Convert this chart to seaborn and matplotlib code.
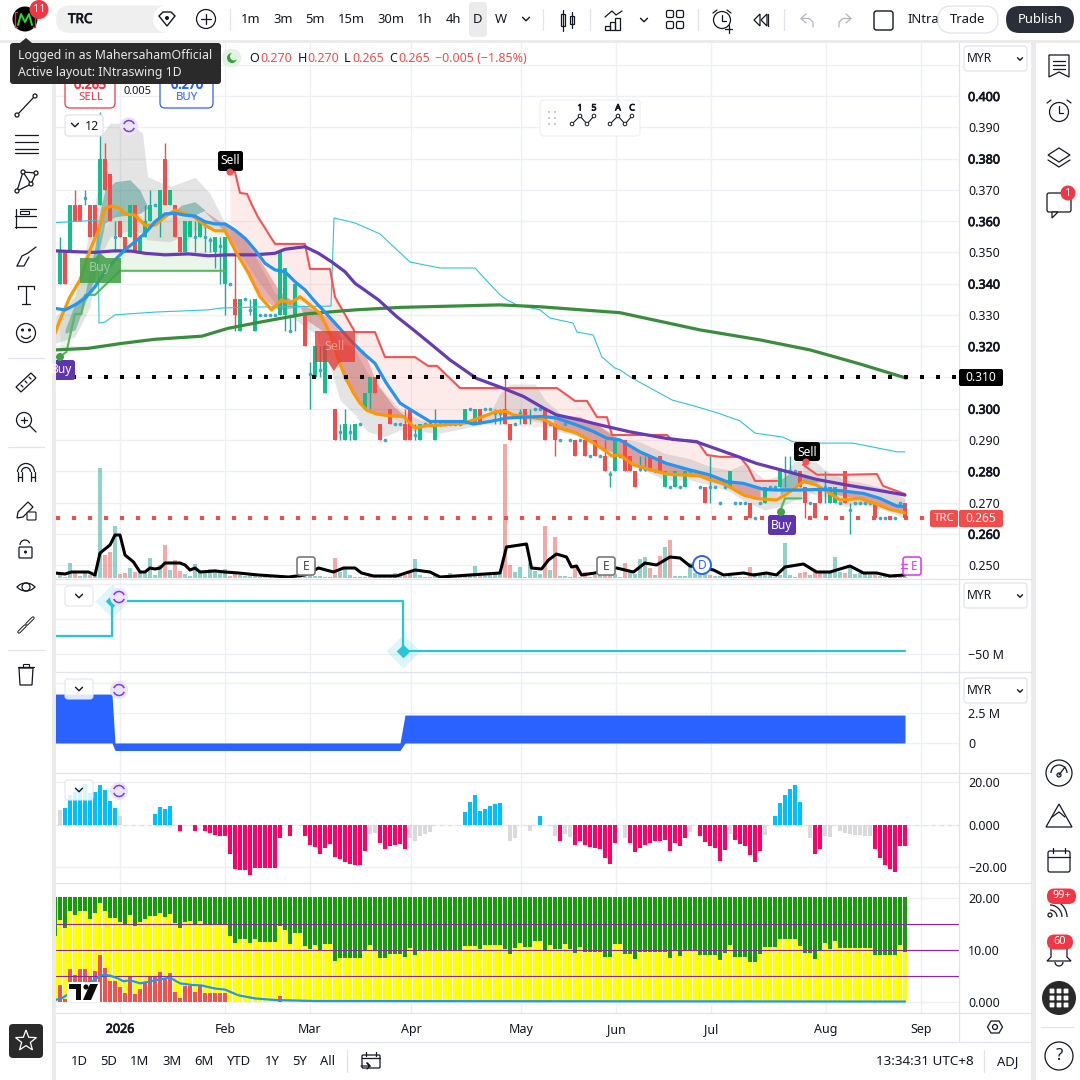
import numpy as np
import matplotlib
matplotlib.use("Agg")
import matplotlib.pyplot as plt
import matplotlib.patheffects as pe
import seaborn as sns
from matplotlib.patches import FancyBboxPatch, Circle, Arc, Polygon, Rectangle

nan = float('nan')

# ------------------------------------------------------------------ candles
opens = [.34,.35,.35,.365,.365,.3675,.365,.365,.365,.38,
 .375,.355,.36,.355,.355,.365,.35,.355,.36,.365,
 .36,.38,.365,.365,.355,.35,.355,.355,.355,.355,
 .354,.35,.352,.34,.34,.335,.325,.335,.3315,.325,
 .33,.33,.33,.33,.33,.33,.325,.33,nan,.33,
 .311,.31,.3125,.305,nan,.30,.2925,.29,.2925,.29,
 .295,.30,.305,.31,.295,.29,.30,.295,.295,.295,
 .30,.2915,.29,.295,.295,.29,.295,.295,.295,.295,
 .295,.295,.30,.295,.30,.30,.30,.2985,.2985,.30,
 .295,.295,.2985,.30,.2975,.30,.30,.30,.295,.295,
 .29,.295,.29,.29,.29,.29,.285,.29,.285,.285,
 .279,.28,.285,.29,.285,.28,.2807,.2807,.285,.28,
 .285,.275,.275,.275,.275,.275,.28,.28,.275,.275,
 .275,.275,.27,.275,.275,.27,.27,.27,.27,.265,
 .27,.27,.275,.275,.275,.28,.28,.28,.28,.275,
 .27,.27,.275,.275,.27,.27,.27,.28,.2675,.27,
 .27,.27,.27,.27,.265,.265,.265,.265,.27,.27]
highs = [.355,.35,.365,.37,.365,.37,.365,.365,.395,.385,
 .375,.36,.36,.355,.365,.365,.355,.365,.37,.365,
 .37,.385,.37,.365,.355,.36,.36,.36,.36,.36,
 .355,.355,.355,.355,.34,.35,.335,.335,.335,.335,
 .33,.33,.33,.33,.35,.345,.33,.34,nan,.33,
 .315,.32,.32,.32,nan,.30,.295,.30,.295,.295,
 .295,.305,.31,.31,.295,.29,.30,.295,.295,.30,
 .30,.295,.295,.295,.295,.30,.295,.295,.295,.295,
 .295,.30,.30,.30,.30,.30,.30,.30,.30,.31,
 .295,.295,.30,.30,.30,.30,.30,.30,.295,.295,
 .29,.295,.29,.29,.29,.29,.285,.29,.285,.29,
 .28,.29,.285,.29,.285,.28,.285,.285,.285,.28,
 .285,.28,.275,.28,.275,.28,.28,.28,.275,.275,
 .285,.275,.27,.275,.28,.27,.27,.27,.27,.265,
 .27,.275,.275,.275,.28,.285,.285,.28,.28,.275,
 .27,.27,.275,.28,.275,.275,.27,.28,.27,.27,
 .27,.27,.27,.27,.265,.265,.265,.265,.27,.27]
lows = [.34,.34,.35,.36,.36,.365,.355,.355,.365,.37,
 .36,.35,.355,.35,.355,.35,.35,.355,.36,.365,
 .355,.365,.365,.355,.35,.35,.355,.35,.355,.35,
 .35,.345,.34,.33,.34,.325,.325,.335,.33,.325,
 .33,.33,.33,.33,.33,.325,.325,.325,nan,.32,
 .30,.31,.31,.305,nan,.29,.29,.29,.29,.29,
 .295,.30,.30,.305,.29,.29,.295,.295,.295,.29,
 .29,.29,.29,.295,.295,.29,.295,.295,.295,.295,
 .295,.295,.30,.295,.295,.30,.30,.295,.295,.295,
 .29,.295,.295,.295,.295,.30,.30,.29,.295,.285,
 .29,.295,.29,.285,.29,.285,.285,.285,.285,.28,
 .275,.28,.285,.28,.28,.275,.28,.28,.28,.28,
 .28,.275,.275,.275,.275,.275,.28,.28,.275,.27,
 .27,.275,.27,.275,.275,.27,.27,.27,.265,.265,
 .27,.27,.275,.275,.275,.275,.28,.28,.275,.265,
 .27,.265,.27,.27,.27,.27,.27,.27,.26,.27,
 .27,.27,.27,.265,.265,.265,.265,.265,.27,.265]
closes = [.35,.34,.365,.36,.36,.3675,.355,.355,.38,.37,
 .36,.355,.355,.35,.365,.35,.355,.36,.365,.365,
 .37,.365,.37,.355,.35,.36,.36,.355,.36,.355,
 .354,.355,.352,.355,.34,.33,.335,.335,.3315,.335,
 .33,.33,.33,.33,.35,.345,.325,.34,nan,.32,
 .311,.32,.3125,.32,nan,.29,.2925,.295,.2925,.295,
 .295,.305,.31,.305,.29,.29,.295,.295,.295,.29,
 .29,.2915,.295,.295,.295,.295,.295,.295,.295,.295,
 .295,.30,.30,.30,.295,.30,.30,.2985,.2985,.295,
 .29,.295,.2985,.295,.2975,.30,.30,.29,.295,.29,
 .29,.295,.29,.285,.29,.285,.285,.285,.285,.28,
 .279,.29,.285,.28,.28,.275,.2807,.2807,.28,.28,
 .28,.28,.275,.28,.275,.28,.28,.28,.275,.27,
 .275,.275,.27,.275,.28,.27,.27,.27,.265,.265,
 .27,.275,.275,.275,.28,.28,.28,.28,.275,.27,
 .27,.265,.27,.275,.275,.275,.27,.27,.2675,.27,
 .27,.27,.27,.265,.265,.265,.265,.265,.27,.265]

# ------------------------------------------------------------------ overlays on price
orange_i = [-1,0,2,4,6,7.7,9,10.3,12,13,15,17,19,21,23,25,26.3,29,31,33,35,37.7,40,42.3,44.3,46,48,50,52,54,55.7,57,58.7,60,61.3,63.3,66,68.7,71,73,76.7,80.7,82.7,87.3,89.3,90.7,94,96.7,100,103.3,106.7,109.3,110.3,112,114.7,121.3,128,130,132.7,136.7,139.3,141.3,143.3,145,148.7,151.3,154,156,160,163.3,166,169]
orange_v = [.3241,.3284,.3358,.3412,.3507,.3571,.3641,.3648,.3641,.3623,.3619,.3587,.3587,.3614,.3635,.3623,.3619,.3587,.3569,.3569,.3507,.3433,.3358,.3316,.3348,.3337,.3358,.3332,.3305,.3241,.3156,.3103,.305,.3018,.2996,.2983,.2977,.2975,.2938,.2945,.2948,.2954,.2964,.2991,.2991,.298,.2973,.2966,.2938,.2922,.289,.2863,.2849,.2852,.282,.2791,.2785,.2772,.2761,.2724,.2713,.271,.2708,.2724,.2767,.2756,.2729,.2708,.2713,.2695,.2678,.2667]
blue_i = [-1,1,3,5,7,9,11,13,15,17,19,21,23,25,27,29,31,33,35,37,39,41,43,45,47,49,50.7,54.7,58,60.7,63,65.3,68,70.7,74,77.3,80.7,82.7,86,89.3,92.7,96.7,99.3,103.3,106.7,109.3,112,116,121.3,126,130,133.3,136.7,140.7,143.3,148,152,156,160.7,164,167.3,169]
blue_v = [.3321,.3316,.3332,.3353,.339,.3438,.3476,.3508,.3534,.3561,.3598,.3623,.3625,.3619,.3616,.3598,.3591,.3591,.3571,.3545,.3508,.3465,.3444,.3438,.3406,.338,.3348,.3279,.322,.3177,.3145,.3081,.3018,.2991,.2959,.2959,.2959,.2951,.2959,.297,.2973,.2975,.297,.2948,.2927,.2906,.29,.2862,.2825,.2804,.2788,.2767,.2761,.2742,.274,.274,.2742,.2738,.2729,.2713,.2689,.2687]
purple_i = [-1,3,7,11,14.3,17,21,25.7,29.7,33.7,39,43,45,49,51.7,54.3,57,59,63.7,67.3,70.7,74,78,83.3,88.7,92.7,96.7,99.3,104,108,114,121.3,127.3,134.7,139.3,144.7,151.3,157.3,163.3,169]
purple_v = [.3505,.3502,.35,.3505,.3504,.3497,.3492,.3495,.3489,.3492,.3492,.3497,.351,.3518,.3497,.347,.3438,.3401,.3348,.3295,.3252,.3209,.3156,.3097,.3065,.3039,.3002,.298,.2964,.2948,.2926,.2905,.2894,.2852,.2825,.2802,.2774,.2756,.274,.2724]
green_i = [-1,5.6,12.4,19,28.4,33.6,40.4,49,59,68,88,96,112,128,140,150,160,169.2]
green_v = [.3188,.3193,.3209,.3222,.3232,.3257,.3278,.3303,.3316,.3324,.3332,.3326,.3307,.3252,.322,.3188,.3143,.3098]
cyan_i = [-1,7.6,7.8,9,11,13.6,19,29.6,32.4,39,54.2,54.8,59,64,70,76,83,88,89.4,91.4,96,98,102.6,103.4,106.6,108.4,111,112,114.4,122.4,127.4,131.4,136,139,144.6,146.6,152,158.6,167.4,169]
cyan_v = [.3595,.3603,.3274,.3277,.33,.3303,.3309,.3316,.3322,.3325,.3328,.361,.3594,.3559,.3469,.345,.345,.3364,.3348,.3332,.3316,.329,.3274,.3245,.3236,.3165,.313,.3124,.3098,.3028,.3006,.2987,.2961,.2922,.2909,.2894,.289,.289,.2862,.2862]
stop_i = [34,35,36,37.4,38.4,39.6,43,49,50,54,55,57.6,59,63,65,71,73.6,75.4,80,99.4,103,105.4,107.4,109.4,110.4,121.4,122.4,127.4,129.4,132,136,137.6,139,143.4]
stop_v = [.3757,.3757,.369,.3687,.3651,.3613,.3527,.3527,.3447,.3447,.3357,.3284,.3245,.3245,.3165,.3165,.3137,.3137,.3066,.3066,.3025,.3025,.2973,.2973,.2916,.2916,.29,.2897,.2852,.2846,.2846,.2814,.2769,.2769]
stop_floor = [.354,.3507,.349,.3445,.3415,.3375,.332,.3345,.3332,.3241,.318,.308,.3035,.2985,.298,.2938,.2945,.2947,.2953,.294,.2925,.2905,.2885,.2863,.2849,.279,.279,.2785,.2775,.2765,.273,.272,.2713,.2708]
stop2_i = [148.6,151.4,157.4,163.4,164.6,169]
stop2_v = [.2821,.2789,.2789,.2791,.2753,.2727]
stop2_floor = [.2767,.2756,.27,.2695,.2687,.2667]
gstop_i = [0,1.3,3,4.3,5,7,12,18,25,33]
gstop_v = [.3166,.3182,.3303,.3303,.3364,.3364,.3441,.3441,.3441,.3441]
gstop_top = [.33,.331,.337,.342,.346,.354,.364,.36,.362,.359]
gstop2_i = [144,145,148.3]
gstop2_v = [.2671,.2713,.2713]
gstop2_top = [.272,.273,.276]
grey_i = [-1,3,6,7.5,8,10,14,16.5,17.5,22,27,30,33,36,39,43,48,51,54,56,59,61.5,65,68,72,76,81,86,88,90,95,97,100,104,108,112,116,121,126,130,134,137,141,144,147,150,153,157,160,165,169]
grey_up = [.3294,.3358,.3571,.3699,.387,.3913,.3913,.3881,.3742,.371,.374,.3689,.3593,.3561,.3487,.3369,.3337,.332,.3241,.3209,.3188,.3113,.305,.2996,.2964,.2955,.296,.2985,.3049,.3079,.3079,.3028,.2985,.297,.2943,.2905,.2894,.2857,.284,.2815,.2804,.2825,.2772,.2788,.283,.2846,.2804,.2772,.2765,.2745,.2713]
grey_lo = [.3209,.323,.3326,.3476,.3486,.355,.3571,.3561,.354,.3534,.3571,.3582,.3571,.3497,.3422,.3337,.3273,.3241,.3134,.3028,.298,.2927,.2911,.2932,.2927,.2922,.2938,.2959,.298,.2975,.2959,.2954,.2927,.2911,.2873,.2845,.2809,.2772,.2772,.2756,.2735,.2703,.2676,.2687,.2708,.2729,.2719,.2687,.2695,.2676,.2649]
teal1_i = [1,3,5,7,8,9,11,14,16,17.5]
teal1_up = [.3252,.3337,.3369,.3518,.3635,.3699,.3726,.3732,.3699,.3646]
teal1_lo = [.3241,.3252,.3337,.3422,.3518,.3593,.3614,.362,.3625,.3641]
teal2_i = [22.3,24.3,27,29]
teal2_up = [.3625,.3651,.3662,.3635]
teal2_lo = [.3625,.3625,.362,.3635]
teal3_i = [144,146,148,150,152]
teal3_up = [.2772,.2795,.279,.278,.2765]
teal3_lo = [.2724,.2745,.2765,.2765,.2765]
rose1_i = [28.5,33,37,40,43.7,48,49.3,54.7,56.7,60.7,63.3,66.7,68.7]
rose1_up = [.3637,.3587,.355,.3475,.338,.3326,.3327,.3284,.3209,.3188,.3081,.3007,.298]
rose1_lo = [.3637,.3566,.3444,.3358,.3316,.3326,.3284,.3225,.3095,.3007,.2985,.2975,.2975]
rose2_i = [98.7,104,108,112,116,121,128,134,140]
rose2_up = [.298,.2975,.2943,.29,.2862,.2825,.2795,.2767,.2745]
rose2_lo = [.2938,.2919,.2878,.2852,.2812,.2791,.2785,.2745,.2712]
rose3_i = [154,160,165,169]
rose3_up = [.2738,.2729,.2705,.2687]
rose3_lo = [.2729,.2713,.269,.2667]
hline_black = 0.310
hline_last = 0.265

# ------------------------------------------------------------------ volume
volumes = [4,1,15,6,2,6,3,4,110,23, 26,52,4,5,10,6,5,5,20,3, 13,33,8,18,7,4,2,14,8,6, 9,9,5,9,2,5,3,2,3,2,
 1,1,1,1,1,1,1,1,1,1, 3,2,2,1,1,20,6,10,3,1, 1,1,2,1,1,1,1,5,3,3, 5,19,3,1,1,3,1,1,5,1,
 1,2,3,12,3,4,5,5,5,134, 13,6,11,1,15,7,4,52,8,41, 2,2,1,10,1,6,1,3,3,3, 3,4,1,15,8,4,19,21,10,3,
 22,31,38,2,2,2,15,5,4,4, 3,2,2,1,2,1,1,1,11,5, 5,5,3,1,3,35,3,1,5,6, 3,8,5,5,5,21,6,5,11,4, 5,5,3,3,2,2,2,1,1,1]
vol_dir = ("trtrttrttr" "rtrrtrtttt" "trtrrttttt" "ttttrrtttt" "rrrrrttttr" "tttttrtttt" "ttrrrtrttr" "rttttttttt"
           "ttttrttttr" "rttrtttrtr" "tttrtrtrtr" "rttrttttrt" "rtrttttttt" "rtttttttrt" "ttttttttrr" "trrttttrtt" "tttrtttttr")
volavg_i = [-1,1,2.3,5.7,7,8,10,11,12,13,14.7,16,17,18,19,20,21,24,25,26,27,28,31,33,35.7,37.7,39.7,45.7,49,51.7,54.7,56.7,59,60.3,62.7,67.3,71,74,76,82,88,89.3,93.3,94.3,96.3,97.7,99.3,101.3,102.3,103.3,104.3,107,111.3,114.7,117,119.3,122,124,126,128,130.7,132.7,136.7,138.7,141.3,143.3,145,148.7,151.3,154,158,160.7,163.3,166,169]
volavg_v = [5,4,6,6,3,25,33,43,43,23,16,6,6,10,9,10,15,15,13,8,10,6,7,6,5,4,3,1,3,10,6,10,10,5,2,2,8,6,1,3,5,31,34,10,9,18,24,21,11,12,3,5,10,6,15,13,21,20,12,11,8,3,5,3,5,3,11,14,6,6,12,5,5,2,3]

# ------------------------------------------------------------------ lower panes
step_i = [-2,10.4,68.6,169]
step_v = [-37,-12.4,-48,-48]
flip_i = [10.4,68.6]
flip_v = [-12.4,-48]
area_i = [-2,10.4,11,68,69,169]
area_top = [4.08,4.08,0,0,2.33,2.33]
area_bot = [0,0,-.625,-.625,0,0]
hist = [6.8,7.8,14,15.5,17,19,14.8,15.5,18.7,16.3, 11,8,4,0,0,0,0,0,0,5, 8.3,7.3,8.7,0,-3.2,0,0,-3.2,0,-3.2,
 -4.1,-5,-5.6,-5.6,-13.7,-20.8,-21.3,-21.7,-23.7,-20.3, -20.3,-20.3,-20.3,-20.3,-6.5,0,-5.6,0,0,-5.6,
 -9.8,-10.8,-13.7,-11.3,-9.4,-15.1,-16.5,-17.5,-18.4,-18.9, -18.9,-12.7,-4.6,-4.1,-8.9,-11.7,-10.3,-9.8,-9.4,-11.7,
 -6.5,-7.9,-5.6,-4.6,-3.7,0,0,0,0,0, 0,5.9,10.6,14,6.3,7.3,8.7,9.7,10.2,0,
 -7.9,-6.5,0,0,-3.2,0,4,0,0,-5.6, -7.9,-4.6,-6,-9.8,-7.9,-9.8,-10.6,-11.3,-11.7,-15.6,
 -18.4,-8.9,0,-6.5,-8.9,-13.2,-11.3,-9.8,-8.9,-7.9, -7.9,-7.5,-12.7,-8.9,-10.3,-6.5,-3.7,0,-5.6,-8.4,
 -10.3,-11.3,-17,-12.2,-4.6,-7.5,-9.4,-10.3,-14.6,-17.5, -12.7,-5.1,0,4,10.2,14,16.8,18.7,10.6,0,
 -6.5,-14.1,-11.7,-5.6,-6,0,-3.2,-4.1,-4.6,-5.1, -5.1,-5.6,-5.6,-11.7,-16,-18.9,-20.8,-22.2,-10.3,-10.3]
hist_grey = [0,12,62,63,70,71,72,73,74,90,91,94,99,101,102,113,126,134,141,150,153,154,156,157,158,159,160,161,162]
green_top = [20.2]*170
yellow = [15.8,14.2,17.5,16.7,17.5,17.5,16,17.1,19,17.5, 16.2,16.2,15.4,14.8,16.7,14.6,15.4,16,16.5,16.5,
 17.1,16.3,16.9,15.2,14.2,15.4,15.6,14.8,15.6,14.8, 14.8,14.8,14.8,14.8,12.7,11.3,12.1,12.1,11.3,12.1,
 11.5,11.5,11.5,11.5,14.6,13.8,11.2,13.3,13.3,10.8, 10.2,11,9.8,11.2,11.2,7.9,8.5,8.5,8.5,8.5,
 8.5,10,11,10,8.5,8.5,9.2,9.2,9.2,8.7, 10.4,9,9.8,9.8,9.8,9.8,9.8,9.8,9.8,9.8,
 9.8,10.8,10.8,10.8,10.2,11,11,11,11,10.2, 9.2,10.4,11.3,10.6,10.6,11.7,11.7,9.8,11,10.2,
 10.2,11.2,10.2,9.4,10.6,9.6,9.6,9.6,9.6,8.7, 8.7,11.2,11.2,9.2,9.2,8.3,9.6,9.6,9.6,9.6,
 9.6,9.6,8.5,9.8,8.8,10,10,10,9,9, 9,9,8.1,9.4,11,8.7,8.7,8.7,7.7,7.7,
 9.2,10.6,10.6,10.6,12.1,12.1,12.1,12.1,10.8,9.4, 9.4,8.3,9.8,11.3,10.2,11.7,10.4,10.4,10.4,10.4,
 10.4,10.4,10.4,9,9,9,9,9,11,9.6]
yellow_before = [12.7]
green_before = [20.2]
red_bars = [3.3,.6,6.3,5.2,6.3,6.3,5,6,9,6.5, 4,4,2.9,1.7,5,1.5,2.5,3.7,4.8,4.8, 5.8,4.4,5.6,1.9,.8,3.1,3.1,1.9,3.1,1.7,
 1.7,1.7,1.7,1.7,.1,.1,.1,.1,.1,.1, .1,.1,.1,.1,1.2,.1,.1,.1,.1,.1]
rsi_i = [-1,.3,2,3.7,6.3,8.3,10,11.7,12.7,14,16,17.7,19.7,22,24,26.3,28.3,31,33,35.7,39,43,47,51,169]
rsi_v = [.4,.7,1.7,3.3,3.9,5.2,5.1,4.5,4,4.2,3.6,3.9,4.3,4.7,3.6,3.3,3.2,2.6,2.4,1.3,.7,.4,.3,.2,.1]
levels_5 = [15,10,5]

month_pos = [12,33,50,70.2,92.2,111.2,130.2,153.2,172.2]
month_lab = ['2026','Feb','Mar','Apr','May','Jun','Jul','Aug','Sep']
price_ticks = [.40,.39,.38,.37,.36,.35,.34,.33,.32,.30,.29,.28,.27,.26,.25]
price_bold = [.40,.38,.36,.34,.32,.30,.28,.26]

# ------------------------------------------------------------------ theme
sns.set_theme(style='white', rc={'lines.scale_dashes': False})
FONT = ['Noto Sans', 'DejaVu Sans']
plt.rcParams['font.family'] = FONT
INK, GRID, SEP = '#131722', '#eef0f3', '#e0e3eb'
UP, DOWN = '#12bf8c', '#f44b4b'
def embolden(t, c=INK):
    t.set_path_effects([pe.withStroke(linewidth=.55, foreground=c)])

fig = plt.figure(figsize=(10.8, 10.8), dpi=100, facecolor='white')
def pane(top, bottom):
    ax = fig.add_axes([56/1080, 1-bottom/1080, (959-56)/1080, (bottom-top)/1080])
    ax.set_xlim(-0.8, 179.8)
    ax.set_facecolor('white')
    sns.despine(ax=ax, left=True, right=True, top=True, bottom=True)
    ax.yaxis.tick_right()
    ax.set_xticks(month_pos)
    ax.tick_params(axis='both', length=0, labelsize=9, colors=INK, pad=6.5)
    ax.tick_params(axis='x', labelbottom=False)
    ax.grid(True, color=GRID, lw=1.0)
    ax.set_axisbelow(True)
    return ax

idx = np.arange(170)

# ------------------------------------------------------------------ main price pane
ax = pane(43, 578)
ax.set_ylim(.24586, .41695)
ax.set_yticks(np.arange(.25, .411, .01))
labels = {round(t, 2): f'{t:.3f}' for t in price_ticks}
ax.set_yticklabels([labels.get(round(t, 2), '') for t in ax.get_yticks()])
for lab, t in zip(ax.get_yticklabels(), ax.get_yticks()):
    if round(t, 2) in price_bold:
        embolden(lab)

ax.fill_between(gstop_i, gstop_v, gstop_top, color='#4caf50', alpha=.11, lw=0, zorder=1)
ax.fill_between(gstop2_i, gstop2_v, gstop2_top, color='#4caf50', alpha=.11, lw=0, zorder=1)
ax.fill_between(stop_i, stop_v, stop_floor, color='#f44336', alpha=.10, lw=0, zorder=1)
ax.fill_between(stop2_i, stop2_v, stop2_floor, color='#f44336', alpha=.10, lw=0, zorder=1)
ax.fill_between(grey_i, grey_up, grey_lo, color='#787878', alpha=.2, lw=0, zorder=1.1)
for xs, up, lo in ((teal1_i, teal1_up, teal1_lo), (teal2_i, teal2_up, teal2_lo), (teal3_i, teal3_up, teal3_lo)):
    ax.fill_between(xs, up, lo, color='#26897d', alpha=.42, lw=0, zorder=1.2)
for xs, up, lo in ((rose1_i, rose1_up, rose1_lo), (rose2_i, rose2_up, rose2_lo), (rose3_i, rose3_up, rose3_lo)):
    ax.fill_between(xs, up, lo, color='#c83232', alpha=.33, lw=0, zorder=1.2)

o, h, l, c = map(np.array, (opens, highs, lows, closes))
rising = c >= o
colors = [UP if r else DOWN for r in rising]
wick_c = ['#26a69a' if r else DOWN for r in rising]
ax.vlines(idx, l, h, colors=wick_c, lw=1.0, zorder=3)
solid = (o != c) & ~np.isnan(o)
ax.bar(idx[solid], np.abs(c-o)[solid], bottom=np.minimum(o, c)[solid], width=.68,
       color=np.array(colors)[solid], lw=0, zorder=3.1)
doji = o == c
ax.scatter(idx[doji], c[doji], s=7, color='#3ba7c9', lw=0, zorder=3.2)

sns.lineplot(x=cyan_i, y=cyan_v, ax=ax, sort=False, estimator=None, color='#2ec5d8', lw=.8, zorder=3.5)
sns.lineplot(x=gstop_i, y=gstop_v, ax=ax, sort=False, estimator=None, color='#58b85c', lw=1.5, zorder=3.5)
sns.lineplot(x=gstop2_i, y=gstop2_v, ax=ax, sort=False, estimator=None, color='#58b85c', lw=1.5, zorder=3.5)
sns.lineplot(x=stop_i, y=stop_v, ax=ax, sort=False, estimator=None, color='#f55353', lw=1.5, zorder=3.5)
sns.lineplot(x=stop2_i, y=stop2_v, ax=ax, sort=False, estimator=None, color='#f55353', lw=1.5, zorder=3.5)
sns.lineplot(x=green_i, y=green_v, ax=ax, sort=False, estimator=None, color='#388e3c', lw=2.3, zorder=4)
sns.lineplot(x=purple_i, y=purple_v, ax=ax, sort=False, estimator=None, color='#673ab7', lw=2.3, zorder=4)
sns.lineplot(x=orange_i, y=orange_v, ax=ax, sort=False, estimator=None, color='#ff9800', lw=2.3, zorder=4.1)
sns.lineplot(x=blue_i, y=blue_v, ax=ax, sort=False, estimator=None, color='#2196f3', lw=2.3, zorder=4.2)
dash = (0, (2.88, 8.64))
ax.axhline(hline_black, color='black', lw=2.9, ls=dash, dash_capstyle='butt', zorder=5)
ax.axhline(hline_last, color='#f44b4b', lw=2.9, ls=dash, dash_capstyle='butt', zorder=5)

# volume shares the pane on its own scale, in an axes of its own so the price scale stays on the right
axv = fig.add_axes(ax.get_position(), zorder=ax.get_zorder()+1)
axv.set_ylim(0, 535)
axv.set_xlim(ax.get_xlim())
axv.axis('off')
axv.patch.set_visible(False)
vcol = ['#26a69a' if d == 't' else '#ef5350' for d in vol_dir]
axv.bar(idx, volumes, width=.8, color=vcol, alpha=.5, lw=0, zorder=2)
sns.lineplot(x=volavg_i, y=volavg_v, ax=axv, sort=False, estimator=None, color='black', lw=2.2, zorder=3)

# ------------------------------------------------------------------ pane 2
ax2 = pane(580, 671)
ax2.set_ylim(-62.3, 2.7)
ax2.set_yticks([-50, -25, 0])
ax2.set_yticklabels(['\u221250 M', '', ''])
sns.lineplot(x=step_i, y=step_v, ax=ax2, drawstyle='steps-post', estimator=None, sort=False, color='#26c6da', lw=1.6, zorder=3)
ax2.scatter(flip_i, flip_v, marker='D', s=300, color='#26c6da', alpha=.15, lw=0, zorder=2, clip_on=False)
ax2.scatter(flip_i, flip_v, marker='D', s=48, color='#26c6da', lw=0, zorder=4)

# ------------------------------------------------------------------ pane 3
ax3 = pane(672, 772)
ax3.set_ylim(-2.42, 5.92)
ax3.set_yticks([0, 2.5, 5])
ax3.set_yticklabels(['0', '2.5 M', ''])
ax3.fill_between(area_i, area_top, area_bot, color='#2962ff', lw=0, zorder=3)

# ------------------------------------------------------------------ pane 4
ax4 = pane(773, 883)
ax4.set_ylim(-27.6, 24.3)
ax4.set_yticks([-20, 0, 20])
ax4.set_yticklabels(['\u221220.00', '0.000', '20.00'])
hcol = ['#d9d9de' if i in hist_grey else ('#00bfff' if v > 0 else '#ff0066') for i, v in enumerate(hist)]
ax4.bar(idx, hist, width=.8, color=hcol, lw=0, zorder=3)
ax4.axhline(0, color='#dfe1e6', lw=.8, ls=(0, (3, 3)), zorder=2)

# ------------------------------------------------------------------ pane 5
ax5 = pane(884, 1013)
ax5.set_ylim(-2.1, 22.7)
ax5.set_yticks([0, 10, 20])
ax5.set_yticklabels(['0.000', '10.00', '20.00'])
ax5.bar(idx, green_top, width=.8, color='#169b0b', lw=0, zorder=2)
ax5.bar(idx, yellow, width=.8, color='#ffff00', lw=0, zorder=2.1)
ax5.bar([-1], green_before, width=.8, color='#169b0b', lw=0, zorder=2)
ax5.bar([-1], yellow_before, width=.8, color='#ffff00', lw=0, zorder=2.1)
ax5.bar(idx[:len(red_bars)], red_bars, width=.8, color='#ef5350', lw=0, zorder=2.2)
for lv in levels_5:
    ax5.axhline(lv, color='#8e24aa', lw=.85, zorder=3)
sns.lineplot(x=rsi_i, y=rsi_v, ax=ax5, sort=False, estimator=None, color='#2196f3', lw=1.6, zorder=3.2)
ax5.tick_params(axis='x', labelbottom=True, pad=7)
ax5.set_xticklabels(month_lab)
embolden(ax5.get_xticklabels()[0])

# ------------------------------------------------------------------ interface layer, in pixels
ui = fig.add_axes([0, 0, 1, 1], zorder=20)
ui.set_xlim(0, 1080); ui.set_ylim(1080, 0); ui.axis('off'); ui.patch.set_visible(False)
ui.set_autoscale_on(False)

def box(x0, y0, x1, y1, r=0, fc='white', ec='none', lw=1, z=2, alpha=None):
    if r:
        p = FancyBboxPatch((x0, y0), x1-x0, y1-y0, boxstyle=f'round,pad=0,rounding_size={r}', fc=fc, ec=ec, lw=lw, zorder=z, alpha=alpha)
    else:
        p = Rectangle((x0, y0), x1-x0, y1-y0, fc=fc, ec=ec, lw=lw, zorder=z, alpha=alpha)
    ui.add_patch(p); return p
def T(x, y, s, px=12.5, c=INK, ha='left', bold=False, z=6, alpha=None):
    t = ui.text(x, y, s, fontsize=px*.72, color=c, ha=ha, va='center', zorder=z, alpha=alpha)
    if bold:
        embolden(t, c)
    return t
def L(xs, ys, c=INK, w=.9, z=5):
    ui.plot(xs, ys, color=c, lw=w, zorder=z, solid_capstyle='round', solid_joinstyle='round')
def C(x, y, r, fc='none', ec=INK, lw=.9, z=5):
    ui.add_patch(Circle((x, y), r, fc=fc, ec=ec, lw=lw, zorder=z))
def A(x, y, d, t1, t2, c=INK, w=.9, z=5):
    ui.add_patch(Arc((x, y), d, d, theta1=t1, theta2=t2, ec=c, lw=w, zorder=z))
def P(pts, fc='none', ec=INK, lw=.9, z=5, closed=True, alpha=None):
    ui.add_patch(Polygon(pts, closed=closed, fc=fc, ec=ec, lw=lw, zorder=z, alpha=alpha))
def chev(x, y, s=3.5, c=INK):
    L([x-s, x, x+s], [y-s/2, y+s/2, y-s/2], c, 1.0)
def badge(x, y, s, r=8):
    C(x, y, r, fc='#f23645', ec='none')
    T(x, y, s, 11, 'white', 'center')
def sync(x, y):
    C(x, y, 9, fc='#ebe5f8', ec='none')
    A(x, y, 11, 20, 160, '#7c3aed', 1.1); A(x, y, 11, 200, 340, '#7c3aed', 1.1)

# frame strips
STRIP = '#ebebeb'
box(0, 39.5, 1080, 43, fc=STRIP); box(52, 39.5, 55.6, 1080, fc=STRIP); box(1031, 39.5, 1036, 1080, fc=STRIP)
box(1036, 43, 1080, 1080, fc='white', z=1.5)
for yy in (579, 671.5, 772.5, 883, 1013):
    L([56, 1031], [yy, yy], SEP, .9, 3)
L([56, 1031], [1042, 1042], SEP, .9, 3)
L([959, 959], [43, 1042], SEP, .9, 3)

# top bar
C(25, 19, 12.5, fc='black', ec='none')
L([18, 21, 25, 29, 32], [25, 14, 22, 14, 25], '#22e02a', 1.4, 6)
L([17, 15, 15, 17], [12, 12, 27, 27], '#e53935', 1.0, 6); L([33, 35, 35, 33], [12, 12, 27, 27], '#e53935', 1.0, 6)
badge(39, 9.5, '11', 9.5)
box(56, 5.5, 178, 33, 13.5, fc='#efefef')
T(68, 19.5, 'TRC', 13.5, INK, bold=True)
C(167, 19, 14, fc='white', ec='none')
P([(159, 16), (163, 12), (171, 12), (175, 16), (167, 26)], lw=1.0)
C(167, 18, 2, fc=INK, ec='none')
C(206, 19, 9.5); L([201, 211], [19, 19]); L([206, 206], [14, 24])
L([230, 230], [9, 30], '#e0e3eb', .9)
for xx, s in zip((251, 283, 315, 351, 391, 425, 453, 501), ('1m', '3m', '5m', '15m', '30m', '1h', '4h', 'W')):
    T(xx, 19.5, s, 13, INK, 'center')
box(469, 2, 487, 37, 4, fc='#ebebeb')
T(478, 19.5, 'D', 13, INK, 'center')
chev(526, 19)
for xx in (543, 590, 698, 784):
    L([xx, xx], [9, 30], '#e0e3eb', .9)
box(561, 14, 565, 26, fc='none', ec=INK, lw=.9, z=5); L([563, 563], [10, 31])
box(570, 16, 574, 24, fc='none', ec=INK, lw=.9, z=5); L([572, 572], [12, 28])
L([605, 612, 616, 622], [17, 11, 15, 11])
for xx, yt in ((607, 26), (612, 22), (617, 18)):
    box(xx-2.5, yt, xx+2.5, 30, fc='none', ec=INK, lw=.9, z=5)
chev(644, 20)
for xx in (670, 680):
    for yy in (14, 25):
        box(xx-3.5, yy-3.5, xx+3.5, yy+3.5, 1.5, fc='none', ec=INK, lw=.9, z=5)
C(722, 20, 8.5); L([722, 722, 726], [15, 21, 21]); L([713, 717], [13, 10]); L([731, 727], [13, 10])
L([725, 732], [29, 29]); L([728.5, 728.5], [25, 33])
P([(760, 14), (754, 20), (760, 26)]); P([(767, 14), (761, 20), (767, 26)])
L([767.5, 767.5], [14, 26])
GR = '#b2b5be'
L([806, 801, 806], [14, 18.5, 23], GR); L([801, 809, 813, 813], [18.5, 18.5, 22, 27], GR)
L([846, 851, 846], [14, 18.5, 23], GR); L([851, 843, 839, 839], [18.5, 18.5, 22, 27], GR)
box(874, 11, 893, 30, 2.5, fc='none', ec=INK, lw=1.0, z=5)
T(907, 19.5, 'INtra', 13, INK)
box(934, 0, 940, 38, fc='white', z=5.5)
box(938, 6, 998, 33, 13.5, fc='white', ec='#e0e3eb', lw=.9, z=6)
T(968, 19.5, 'Trade', 13, INK, 'center', z=7)
box(1006, 6, 1074, 33, 13.5, fc='#2a2e39', z=6)
T(1040, 19.5, 'Publish', 13, 'white', 'center', z=7)

# legend row
box(222, 49, 241, 67, 9, fc='#e2f2e3')
C(232, 58, 5, fc='#33a03a', ec='none', z=6); C(234, 56.5, 4, fc='#e2f2e3', ec='none', z=6.2)
for xx, s, col in ((249, 'O', INK), (260, '0.270', DOWN), (298, 'H', INK), (307, '0.270', DOWN), (344, 'L', INK), (352, '0.265', DOWN), (389, 'C', INK), (398, '0.265', DOWN), (435, '\u22120.005 (\u22121.85%)', DOWN)):
    T(xx, 58.5, s, 12.5, col)
box(65, 74, 115, 108, 5, fc='white', ec='#f23645', lw=.9)
T(90, 85, '0.265', 12.5, '#f23645', 'center', bold=True); T(91, 98, 'SELL', 11.5, '#f23645', 'center')
box(160, 74, 213, 108, 5, fc='white', ec='#2962ff', lw=.9)
T(187, 85, '0.270', 12.5, '#2962ff', 'center', bold=True); T(187, 98, 'BUY', 11.5, '#2962ff', 'center')
T(138, 91, '0.005', 11, INK, 'center')
P([(20, 43), (26, 38), (32, 43)], fc='#2a2a2a', ec='none', z=8)
box(10, 43, 221, 84, 3, fc='#2a2a2a', z=8)
T(18, 55.5, 'Logged in as MahersahamOfficial', 12.3, '#e8e8e8', z=9)
T(18, 72.5, 'Active layout: INtraswing 1D', 12.3, '#e8e8e8', z=9)

# collapse controls
box(65, 115, 103, 136, 3, fc='white', ec='#e0e3eb', lw=.9)
chev(75, 125); T(85, 126, '12', 12.5)
sync(129, 126)
for yy in (586, 679, 780):
    box(65, yy, 93, yy+20, 3, fc='white', ec='#e0e3eb', lw=.9, alpha=.85)
    chev(79, yy+10)
sync(119, 597); sync(119, 690); sync(119, 791)

# drawing templates toolbar
box(540, 100, 640, 136, 4, fc='white', ec='#eeeeee', lw=.8)
for xx in (549, 555):
    for yy in (112, 118, 124):
        box(xx-1, yy-1, xx+1, yy+1, fc='#c8c8c8', z=5)
for x0, a, b in ((570, '1', '5'), (608, 'A', 'C')):
    xs = [x0+2, x0+10, x0+17, x0+24]; ys = [124, 116, 124, 116]
    L(xs, ys, INK, .8)
    for a_, b_ in zip(xs, ys):
        C(a_, b_, 1.8, fc='white', ec=INK, lw=.7, z=6)
    T(x0+10, 108, a, 9, INK, 'center', bold=True); T(x0+24, 108, b, 9, INK, 'center', bold=True)

# currency boxes
for y0 in (46, 583, 678):
    box(964, y0, 1027, y0+25, 3, fc='white', ec='#e0e3eb', lw=.9)
    T(967, y0+12.5, 'MYR', 12, INK)
    chev(1020, y0+13, 2.5)

# price labels
box(959, 369, 1003, 386, 2, fc='#000000', z=7)
T(981, 377.5, '0.310', 12, 'white', 'center', z=8)
box(930, 510, 958, 527, 2, fc='#f44b4b', z=7)
T(944, 518.5, 'TRC', 11.5, 'white', 'center', z=8)
box(959, 510, 1003, 527, 2, fc='#f44b4b', z=7)
T(981, 518.5, '0.265', 12, 'white', 'center', z=8)

# signal labels
P([(80, 258), (95, 258), (100, 253), (106, 258), (121, 258), (121, 283), (80, 283)], fc='#43a047', ec='none', z=3, alpha=.88)
T(100, 268, 'Buy', 12.5, 'white', 'center', alpha=.45)
P([(315, 331), (355, 331), (355, 362), (340, 362), (334, 371), (328, 362), (315, 362)], fc='#e53935', ec='none', z=3, alpha=.78)
T(335, 346, 'Sell', 12.5, 'white', 'center', alpha=.4)
C(230, 172, 3.5, fc='#f55353', ec='none', z=3)
box(218, 151, 243, 171, 2.5, fc='black'); T(230.5, 161, 'Sell', 12, 'white', 'center')
C(60, 357, 4, fc='#43a047', ec='none', z=3)
box(49, 360, 75, 380, 2.5, fc='#5e35b1'); T(62, 370, 'Buy', 12, 'white', 'center')
box(0, 360, 55.6, 380, fc='white', z=3.5); box(52, 360, 55.6, 380, fc=STRIP, z=3.6)
C(806, 462, 3.5, fc='#f55353', ec='none', z=3)
box(794, 442, 820, 461, 2.5, fc='black'); T(807, 452, 'Sell', 12, 'white', 'center')
C(781, 512, 4, fc='#43a047', ec='none', z=3)
box(768, 515, 796, 535, 2.5, fc='#5e35b1'); T(782, 525, 'Buy', 12, 'white', 'center')

# event badges
for xx in (306, 606):
    box(xx-9, 557, xx+9, 575, 2.5, fc='white', ec='#7a7a7a', lw=1.2)
    T(xx, 566, 'E', 12, '#444444', 'center')
C(702, 565, 9, fc='white', ec='#2962ff', lw=1.4, z=5)
T(702, 565.5, 'D', 12, '#2962ff', 'center')
box(903, 557, 921, 575, 2.5, fc='white', ec='#e040fb', lw=1.2)
T(914, 566, 'E', 12, '#e040fb', 'center')
L([901, 907], [564, 564], '#e040fb', .9, 6); L([901, 907], [568, 568], '#e040fb', .9, 6)

# chart logo
box(67, 982, 100, 1002, fc='white', z=3)
P([(69, 984), (81, 984), (81, 1000), (76, 1000), (76, 989), (69, 989)], fc='#0b0b0b', ec='none', z=4)
C(86, 987, 2.6, fc='#0b0b0b', ec='none', z=4)
P([(90, 984), (98, 984), (91, 1000), (83, 1000)], fc='#0b0b0b', ec='none', z=4)

# left bar icons
X = 26
L([18, 34], [114, 97]); C(17, 115, 2, fc='white'); C(35, 96, 2, fc='white')
for yy in (136, 143, 150, 154):
    L([15, 38], [yy-1, yy-1])
L([17, 23, 31, 36], [191, 172, 184, 173]); L([17, 31], [191, 184]); L([23, 36], [172, 173])
for a_, b_ in ((17, 191), (23, 172), (31, 184), (36, 173)):
    C(a_, b_, 2, fc='white')
L([15, 36], [216, 216]); L([15, 36], [227, 227]); L([20, 36], [209, 209]); L([16, 16], [209, 228]); box(20, 211, 29, 214, fc='white', ec=INK, lw=.8, z=5)
L([17, 22, 28, 36], [266, 256, 253, 247]); L([17, 24, 29], [266, 266, 257])
L([18, 34], [286, 286]); L([26, 26], [286, 304]); L([18, 18], [286, 289]); L([34, 34], [286, 289]); L([22, 30], [304, 304])
C(X, 333, 9.5); C(22.5, 330, .9, fc=INK, ec=INK); C(29.5, 330, .9, fc=INK, ec=INK); A(X, 333, 11, 30, 150)
L([8, 44], [358, 358], '#e0e3eb', .9)
P([(16, 387), (31, 373), (36, 378), (21, 392)])
for t_ in (0, 1, 2):
    L([21+t_*4, 23+t_*4], [385-t_*4, 387-t_*4])
C(24, 420, 7.5); L([29.5, 36], [425.5, 432]); L([21, 27], [420, 420]); L([24, 24], [417, 423])
L([8, 44], [447, 447], '#e0e3eb', .9)
A(X, 472, 17, 180, 360); L([17.5, 17.5], [472, 481]); L([34.5, 34.5], [472, 481]); A(X, 472, 9, 180, 360); L([21.5, 21.5], [472, 481]); L([30.5, 30.5], [472, 481]); L([17.5, 21.5], [477, 477]); L([30.5, 34.5], [477, 477])
P([(17, 518), (18, 512), (28, 502), (33, 507), (23, 517)]); box(27, 512, 36, 520, 1, fc='white', ec=INK, lw=.8, z=6)
box(19, 547, 32, 558, 1, fc='none', ec=INK, lw=.9, z=5); A(25, 545, 10, 180, 340); C(25.5, 552, .9, fc=INK)
A(X, 595, 24, 220, 320); A(X, 579, 24, 40, 140); C(X, 587, 4)
L([19, 25], [632, 626], INK, 2.4, 5); L([19, 25], [632, 626], 'white', 1.0, 6); L([27, 33], [624, 618], INK, 2.4, 5); L([27, 33], [624, 618], 'white', 1.0, 6)
L([8, 44], [650, 650], '#e0e3eb', .9)
L([18, 34], [667, 667]); P([(19, 668), (33, 668), (32, 685), (20, 685)]); box(23, 664, 29, 667, fc='none', ec=INK, lw=.8, z=5)
box(9, 1024, 43, 1058, 4, fc='#2a2a2a')
angs = np.deg2rad(np.arange(-90, 270, 36)); rad = np.where(np.arange(10) % 2 == 0, 11, 4.6)
P(list(zip(26+rad*np.cos(angs), 1041+rad*np.sin(angs))), ec='white', lw=.9, z=6)

# right bar icons
R = 1059
P([(1049, 55), (1069, 55), (1069, 77), (1059, 72), (1049, 77)])
for yy in (61, 65, 69):
    L([1053, 1065], [yy, yy])
C(R, 112, 9.5); L([R, R, R+4], [106, 113, 113]); L([1047, 1051], [103, 100]); L([1071, 1067], [103, 100])
P([(R, 148), (1070, 155), (R, 162), (1048, 155)]); L([1048, 1059, 1070], [160, 167, 160])
box(1047, 193, 1071, 212, 2, fc='none', ec=INK, lw=.9, z=5)
P([(1052, 212), (1052, 218), (1058, 212)], fc='white')
badge(1068, 193, '1', 7.5)
C(R, 773, 13); A(R, 773, 16, 180, 360); L([R, R+6], [775, 767]); C(R, 775, 2)
P([(1046, 827), (1059, 804), (1072, 827)]); L([1052, 1059, 1065], [817, 812, 817])
box(1048, 851, 1070, 872, 2, fc='none', ec=INK, lw=.9, z=5); L([1048, 1070], [857, 857]); L([1053, 1053], [848, 853]); L([1065, 1065], [848, 853])
C(1050, 915, 2)
for d_ in (14, 24, 34):
    A(1050, 917, d_, 270, 360)
box(1047, 888.5, 1076, 904, 7.5, fc='#f23645', z=6); T(1061.5, 896, '99+', 11, 'white', 'center', z=7)
P([(1047, 961), (1051, 957), (1051, 948), (1059, 941), (1067, 948), (1067, 957), (1071, 961)])
A(R, 962, 8, 0, 180)
box(1047, 934.5, 1073, 949.5, 7.5, fc='#f23645', z=6); T(1060, 942, '60', 11, 'white', 'center', z=7)
C(R, 998, 17, fc='#2a2a2a', ec='none')
for xx in (R-7, R, R+7):
    for yy in (991, 998, 1005):
        box(xx-2.4, yy-2.4, xx+2.4, yy+2.4, .8, fc='white', z=6)
C(R, 1056, 14); T(R, 1056, '?', 17, INK, 'center')
L([1041, 1073], [1027, 1027], '#e0e3eb', .9)

# bottom bar
for xx, s in zip((79, 109, 140, 172, 204, 239, 272, 300, 328), ('1D', '5D', '1M', '3M', '6M', 'YTD', '1Y', '5Y', 'All')):
    T(xx, 1061.5, s, 13, INK, 'center')
L([347, 347], [1050, 1072], '#e0e3eb', .9)
box(362, 1055, 380, 1068, 1, fc='none', ec=INK, lw=.9, z=5)
L([362, 380], [1058, 1058]); L([366, 366], [1052, 1056]); L([376, 376], [1052, 1056]); L([361, 370, 367, 370, 367], [1066, 1066, 1063, 1066, 1069])
T(974, 1061.5, '13:34:31 UTC+8', 13.4, INK, 'right')
L([984, 984], [1050, 1072], '#e0e3eb', .9)
T(1008, 1061.5, 'ADJ', 13, INK, 'center')
P([(987.5, 1027), (991, 1021), (999, 1021), (1002.5, 1027), (999, 1033), (991, 1033)]); C(995, 1027, 2.5)

fig.savefig('out.png', dpi=100, facecolor='white')
